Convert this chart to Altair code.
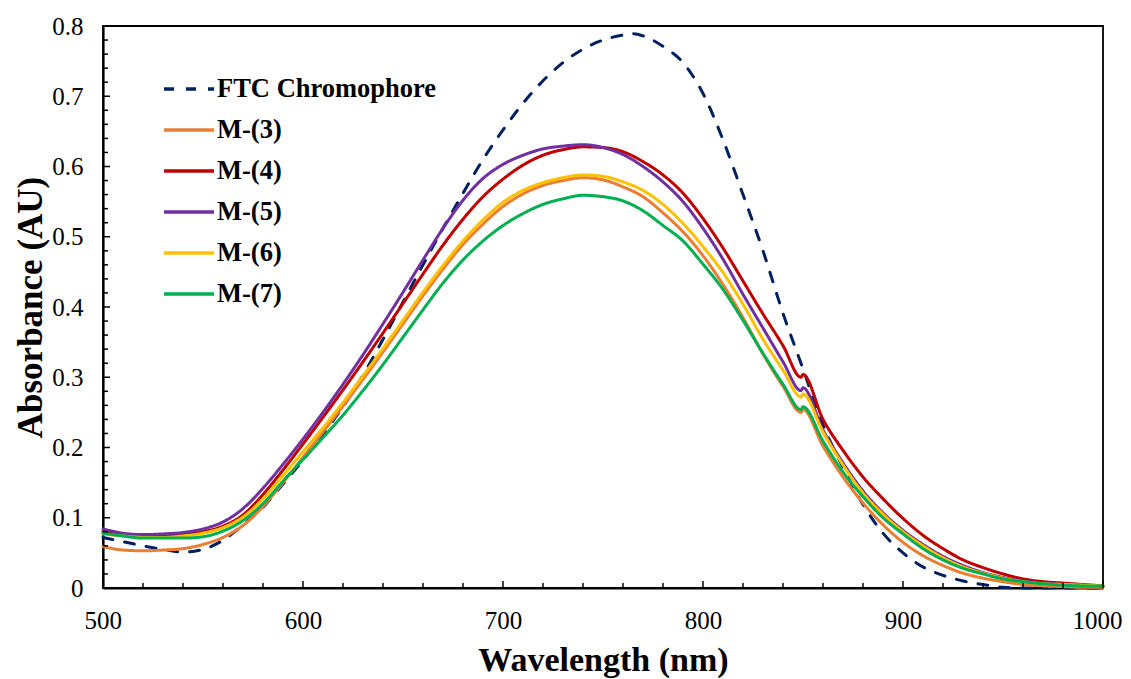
import altair as alt
import pandas as pd

wavelength = [500, 510, 520, 530, 540, 550, 560, 570, 580, 590, 600, 610, 620, 630, 640,
              650, 660, 670, 680, 690, 700, 710, 720, 730, 740, 750, 760, 770, 780, 790,
              800, 810, 820, 830, 840, 849, 850, 860, 870, 880, 890, 900, 910, 920,
              930, 940, 950, 960, 970, 980, 990, 1000]

m3 = [0.059, 0.054, 0.053, 0.054, 0.056, 0.062, 0.072, 0.089, 0.116, 0.150, 0.186, 0.222,
      0.259, 0.297, 0.336, 0.376, 0.416, 0.454, 0.489, 0.518, 0.543, 0.561, 0.573, 0.580,
      0.584, 0.581, 0.571, 0.557, 0.534, 0.507, 0.473, 0.432, 0.385, 0.333, 0.287, 0.250,
      0.254, 0.202, 0.158, 0.121, 0.090, 0.065, 0.046, 0.032, 0.021, 0.014, 0.009,
      0.005, 0.003, 0.002, 0.001, 0.001]

m4 = [0.080, 0.076, 0.074, 0.074, 0.076, 0.080, 0.088, 0.104, 0.133, 0.168, 0.205, 0.243,
      0.282, 0.322, 0.363, 0.405, 0.447, 0.488, 0.525, 0.557, 0.582, 0.602, 0.616, 0.624,
      0.628, 0.627, 0.621, 0.607, 0.588, 0.562, 0.526, 0.484, 0.437, 0.390, 0.345, 0.300,
      0.304, 0.240, 0.196, 0.158, 0.127, 0.099, 0.075, 0.056, 0.040, 0.029, 0.020,
      0.013, 0.009, 0.007, 0.005, 0.003]

m5 = [0.084, 0.078, 0.076, 0.077, 0.079, 0.084, 0.094, 0.113, 0.142, 0.176, 0.212, 0.250,
      0.290, 0.332, 0.376, 0.421, 0.467, 0.512, 0.552, 0.583, 0.603, 0.616, 0.625, 0.629,
      0.631, 0.627, 0.617, 0.600, 0.578, 0.550, 0.512, 0.468, 0.418, 0.370, 0.322, 0.281,
      0.285, 0.225, 0.178, 0.138, 0.107, 0.082, 0.062, 0.045, 0.032, 0.022, 0.015,
      0.010, 0.007, 0.005, 0.004, 0.003]

m6 = [0.077, 0.074, 0.072, 0.072, 0.074, 0.078, 0.086, 0.101, 0.127, 0.160, 0.194, 0.228,
      0.264, 0.302, 0.341, 0.381, 0.421, 0.459, 0.494, 0.524, 0.549, 0.566, 0.577, 0.584,
      0.588, 0.586, 0.578, 0.566, 0.546, 0.519, 0.486, 0.449, 0.404, 0.354, 0.310, 0.272,
      0.276, 0.222, 0.175, 0.135, 0.105, 0.080, 0.060, 0.043, 0.030, 0.021, 0.014,
      0.009, 0.006, 0.005, 0.004, 0.003]

m7 = [0.078, 0.074, 0.071, 0.071, 0.071, 0.073, 0.081, 0.096, 0.120, 0.152, 0.183, 0.214,
      0.246, 0.281, 0.318, 0.357, 0.396, 0.434, 0.467, 0.494, 0.516, 0.533, 0.546, 0.554,
      0.559, 0.557, 0.551, 0.537, 0.516, 0.494, 0.461, 0.425, 0.381, 0.334, 0.290, 0.254,
      0.258, 0.209, 0.165, 0.130, 0.100, 0.077, 0.056, 0.040, 0.028, 0.020, 0.013,
      0.009, 0.006, 0.004, 0.003, 0.003]

ftc_wavelength = [500, 510, 520, 530, 540, 550, 560, 570, 580, 590, 600, 610, 620, 630, 640,
                  650, 660, 670, 680, 690, 700, 710, 720, 730, 740, 750, 760, 765, 770, 780,
                  790, 800, 810, 820, 830, 840, 850, 860, 870, 880, 890, 900, 910, 920, 930,
                  940, 950, 960, 980, 1000]
ftc = [0.072, 0.066, 0.060, 0.055, 0.051, 0.055, 0.068, 0.090, 0.115, 0.148, 0.182, 0.219,
       0.258, 0.303, 0.354, 0.407, 0.460, 0.512, 0.562, 0.610, 0.652, 0.690, 0.722, 0.748,
       0.767, 0.780, 0.787, 0.789, 0.786, 0.771, 0.748, 0.704, 0.638, 0.560, 0.480, 0.391,
       0.312, 0.232, 0.172, 0.119, 0.078, 0.050, 0.030, 0.018, 0.010, 0.005, 0.001, 0.000,
       0.000, 0.000]

series_names = ["FTC Chromophore", "M-(3)", "M-(4)", "M-(5)", "M-(6)", "M-(7)"]
series_colors = ["#002060", "#ED7D31", "#C00000", "#7030A0", "#FFC000", "#00B050"]
series_dash = [[10, 12], [1, 0], [1, 0], [1, 0], [1, 0], [1, 0]]

x_major = [500, 600, 700, 800, 900, 1000]
x_minor = [520, 540, 560, 580, 620, 640, 660, 680, 720, 740, 760, 780,
           820, 840, 860, 880, 920, 940, 960, 980]
y_major = [0.1, 0.2, 0.3, 0.4, 0.5, 0.6, 0.7, 0.8]
y_minor = [0.02, 0.04, 0.06, 0.08, 0.12, 0.14, 0.16, 0.18, 0.22, 0.24, 0.26, 0.28,
           0.32, 0.34, 0.36, 0.38, 0.42, 0.44, 0.46, 0.48, 0.52, 0.54, 0.56, 0.58,
           0.62, 0.64, 0.66, 0.68, 0.72, 0.74, 0.76, 0.78]

rows = []
for w, v in zip(ftc_wavelength, ftc):
    rows.append({"series": series_names[0], "wl": w, "abs": v})
for i, vals in enumerate([m3, m4, m5, m6, m7], start=1):
    for w, v in zip(wavelength, vals):
        rows.append({"series": series_names[i], "wl": w, "abs": v})
df = pd.DataFrame(rows)

FONT = "Liberation Serif"
W, H = 1000, 562

xscale = alt.Scale(domain=[500, 1000], nice=False, zero=False)
yscale = alt.Scale(domain=[0, 0.8], nice=False)

lines = alt.Chart(df).mark_line(strokeWidth=3, strokeCap="round", interpolate="monotone").encode(
    x=alt.X("wl:Q", scale=xscale,
            axis=alt.Axis(title="Wavelength (nm)", values=x_major, format="d", ticks=False,
                          grid=False, labelPadding=20, labelFlush=True, labelFlushOffset=19,
                          titleX=W / 2, titleY=72, titleBaseline="middle")),
    y=alt.Y("abs:Q", scale=yscale,
            axis=alt.Axis(title="Absorbance (AU)", values=[0] + y_major,
                          labelExpr="datum.value == 0 ? '0' : format(datum.value, '.1f')",
                          ticks=False, grid=False, labelPadding=20, labelFlush=False,
                          titleX=-73, titleY=H / 2, titleBaseline="middle",
                          titleFontSize=35)),
    color=alt.Color("series:N", scale=alt.Scale(domain=series_names, range=series_colors),
                    legend=alt.Legend(title=None, orient="none", legendX=59, legendY=36,
                                      symbolType="stroke", symbolSize=2500,
                                      symbolStrokeWidth=3.5, labelFont=FONT,
                                      labelFontSize=26.5, labelFontWeight="bold",
                                      labelColor="black", labelOffset=1, rowPadding=0,
                                      labelLimit=500, padding=0)),
    strokeDash=alt.StrokeDash("series:N", scale=alt.Scale(domain=series_names, range=series_dash),
                              legend=None),
)

def ticks(vals, field, length):
    d = pd.DataFrame({field: vals})
    if field == "tx":
        return alt.Chart(d).mark_rule(color="black", strokeWidth=1.5).encode(
            x=alt.X("tx:Q", scale=xscale), y=alt.value(H), y2=alt.value(H - length))
    return alt.Chart(d).mark_rule(color="black", strokeWidth=1.5).encode(
        y=alt.Y("ty:Q", scale=yscale), x=alt.value(0), x2=alt.value(length))

chart = alt.layer(
    lines,
    ticks(x_major, "tx", 7), ticks(x_minor, "tx", 5),
    ticks(y_major, "ty", 7), ticks(y_minor, "ty", 5),
).properties(
    width=W, height=H,
    autosize=alt.AutoSizeParams(type="none"),
    padding={"left": 95, "top": 18, "right": 20, "bottom": 100},
).configure_view(
    stroke="black", strokeWidth=1.8
).configure_axis(
    labelFont=FONT, labelFontSize=25, labelColor="black",
    titleFont=FONT, titleFontSize=34, titleFontWeight="bold", titleColor="black",
    domainColor="black", domainWidth=2.2
)

chart.save("out.html", embed_options={"renderer": "svg", "actions": False})
